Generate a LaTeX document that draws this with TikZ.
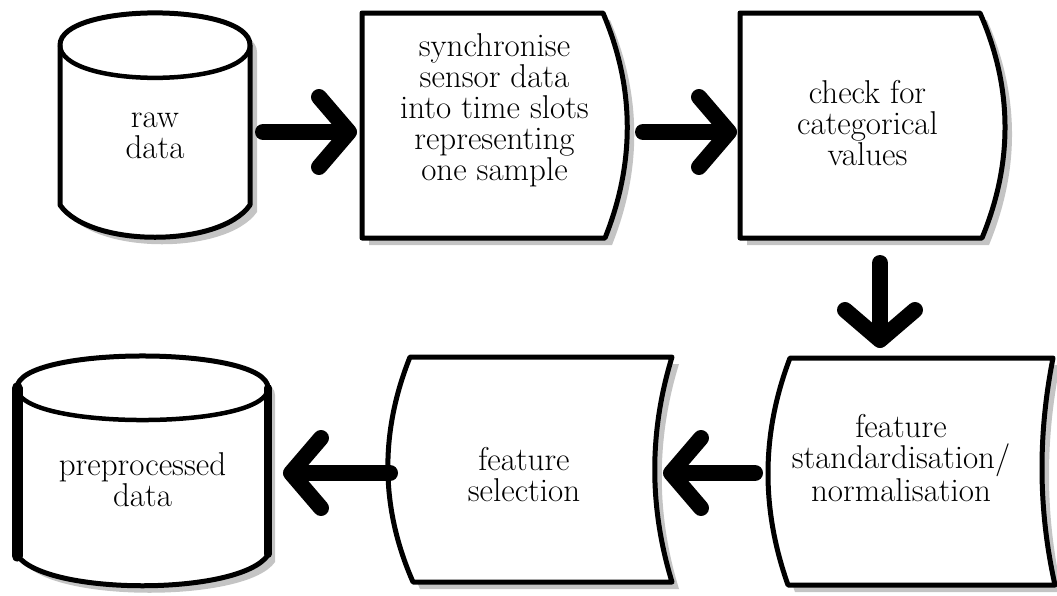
\documentclass[tikz,border=0pt]{standalone}
\usetikzlibrary{arrows.meta,calc}

% fill, then outline, of a shape that casts a grey drop shadow
\newcommand\shadowed[1]{%
  \fill[dropshade, shift={(7,7)}] #1;
  \filldraw[face] #1;}

\tikzset{
  bbox/.style={rectangle, draw=none, inner sep=0pt, outer sep=0pt},
  txt/.style={align=center, inner sep=0pt, font=\fontsize{33}{31}\selectfont},
  face/.style={fill=white, draw=black, line width=5pt, line join=round},
  dropshade/.style={fill=shadowgrey},
  arr/.style={line width=16pt, line cap=round,
    -{Straight Barb[length=30pt, width=70pt, line width=16pt, round]}},
}
\definecolor{shadowgrey}{RGB}{196,196,196}

\begin{document}
\begin{tikzpicture}[x=1pt, y=-1pt]
\useasboundingbox (0,0) rectangle (1057,595);

% ---------- raw data (cylinder) ----------
\shadowed{(60,45) -- (60,205) .. controls (90,248) and (220,248) .. (250,205) -- (250,45)
  .. controls (250,2.2) and (60,2.2) .. (60,45) -- cycle}
\draw[line width=4.5pt] (60,45) .. controls (60,88.8) and (250,88.8) .. (250,45);
\node[bbox, minimum width=190pt, minimum height=225pt,
  label={[txt, yshift=-10.5pt]center:raw\\data}] (raw) at (155,125.5) {};

% ---------- synchronise ----------
\shadowed{(362,13) -- (603,13) .. controls (635,88) and (635,163) .. (605,238) -- (362,238) -- cycle}
\node[bbox, minimum width=265pt, minimum height=225pt,
  label={[txt, yshift=15.5pt]center:synchronise\\sensor data\\into time slots\\representing\\one sample}]
  (sync) at (494.5,125.5) {};

% ---------- categorical check ----------
\shadowed{(740,13) -- (980,13) .. controls (1013,88) and (1013,163) .. (982,238) -- (740,238) -- cycle}
\node[bbox, minimum width=265pt, minimum height=225pt,
  label={[txt, xshift=-5pt, yshift=2.5pt]center:check for\\categorical\\values}]
  (check) at (872.5,125.5) {};

% ---------- standardisation ----------
\shadowed{(790,358) -- (1053,358) .. controls (1038,434) and (1038,509) .. (1055,585) -- (788,585)
  .. controls (761,509) and (761,434) .. (790,358) -- cycle}
\node[bbox, minimum width=287pt, minimum height=227pt,
  label={[txt, xshift=-10.5pt, yshift=13.5pt]center:feature\\standardisation/\\normalisation}]
  (norm) at (911.5,471.5) {};

% ---------- feature selection ----------
\shadowed{(410,357) -- (672,357) .. controls (649,432) and (649,507) .. (672,582) -- (413,582)
  .. controls (380,507) and (380,432) .. (410,357) -- cycle}
\node[bbox, minimum width=284pt, minimum height=225pt,
  label={[txt, xshift=-6pt, yshift=-5.5pt]center:feature\\selection}]
  (sel) at (530,469.5) {};

% ---------- preprocessed data (cylinder) ----------
\shadowed{(17,388) -- (17,555) .. controls (45,596) and (240,596) .. (268,555) -- (268,388)
  .. controls (268,345.3) and (17,345.3) .. (17,388) -- cycle}
\draw[line width=4.5pt] (17,388) .. controls (17,430.7) and (268,430.7) .. (268,388);
\draw[line width=11pt, line cap=round] (17,388) -- (17,556);
\draw[line width=8pt, line cap=round] (268,388) -- (268,554);
\node[bbox, minimum width=251pt, minimum height=231pt,
  label={[txt, yshift=-9.5pt]center:preprocessed\\data}] (pre) at (142.5,470.5) {};

% ---------- connectors ----------
\draw[arr, shorten <=13pt, shorten >=5pt]
  ([yshift=-6.5pt]raw.east) -- ([yshift=-6.5pt]raw.east -| sync.west);
\draw[arr, shorten <=16pt, shorten >=3pt]
  ([yshift=-6.5pt]sync.east) -- ([yshift=-6.5pt]sync.east -| check.west);
\draw[arr, shorten <=25pt, shorten >=10pt]
  ([xshift=7.5pt]check.south) -- ([xshift=7.5pt]check.south |- norm.north);
\draw[arr, shorten <=13pt, shorten >=-9pt]
  ([yshift=-1.5pt]norm.west) -- ([yshift=-1.5pt]norm.west -| sel.east);
\draw[arr, shorten <=-2pt, shorten >=15pt]
  ([yshift=-3.5pt]sel.west) -- ([yshift=-3.5pt]sel.west -| pre.east);
\end{tikzpicture}
\end{document}
